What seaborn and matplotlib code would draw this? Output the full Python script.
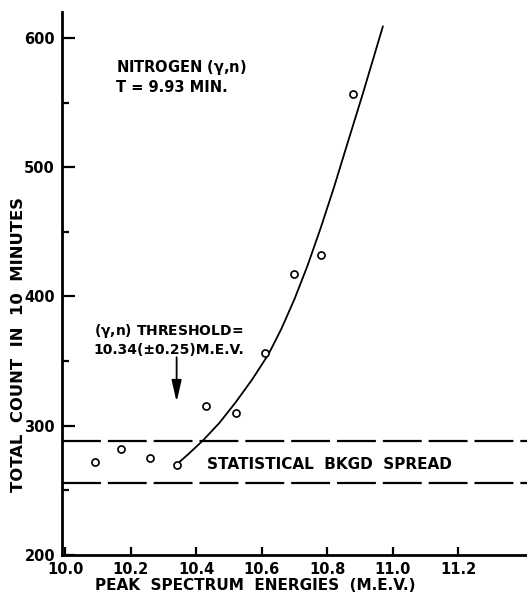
import matplotlib
matplotlib.use("Agg")
import matplotlib.pyplot as plt
import seaborn as sns
import pandas as pd

# Measured counts (10-minute runs) vs. peak bremsstrahlung energy
energy_mev = [10.09, 10.17, 10.26, 10.34, 10.43, 10.52, 10.61, 10.70, 10.78, 10.88]
total_count = [272, 282, 275, 270, 315, 310, 356, 417, 432, 557]

# Hand-drawn fit through the rising yield
curve_mev = [10.34, 10.38, 10.42, 10.47, 10.52, 10.57, 10.62, 10.66, 10.70,
             10.74, 10.78, 10.82, 10.86, 10.91, 10.97]
curve_count = [270, 279, 288.5, 302, 318, 335.5, 355, 375, 398,
               424, 453, 484, 517, 558, 609]

# Background band limits
bkgd_low, bkgd_high = 256, 288
threshold_mev = 10.34

x_ticks = [10.0, 10.2, 10.4, 10.6, 10.8, 11.0, 11.2]
x_tick_labels = ["10.0", "10.2", "10.4", "10.6", "10.8", "11.0", "11.2"]
y_ticks = [200, 300, 400, 500, 600]
y_minor_ticks = [250, 350, 450, 550]

sns.set_style("ticks")
plt.rcParams["font.family"] = ["DejaVu Sans"]
plt.rcParams["font.weight"] = "bold"
plt.rcParams["lines.scale_dashes"] = False
for key in ("text.color", "axes.edgecolor", "axes.labelcolor",
            "xtick.color", "ytick.color"):
    plt.rcParams[key] = "black"

fig = plt.figure(figsize=(5.27, 5.94), dpi=100)
ax = fig.add_axes([62 / 527, 39 / 594, 465 / 527, (555 - 11.7) / 594])

pts = pd.DataFrame({"energy": energy_mev, "count": total_count})
fit = pd.DataFrame({"energy": curve_mev, "count": curve_count})

sns.lineplot(data=fit, x="energy", y="count", sort=False, color="black",
             linewidth=1.3, ax=ax)
sns.scatterplot(data=pts, x="energy", y="count", color="white",
                edgecolor="black", linewidth=1.2, s=26, zorder=5, ax=ax)

for level in (bkgd_low, bkgd_high):
    ax.axhline(level, color="black", linewidth=1.6, linestyle=(0, (28, 5)))

ax.set_xlim(9.990, 11.410)
ax.set_ylim(200, 620.3)

ax.set_xticks(x_ticks)
ax.set_xticklabels(x_tick_labels)
ax.set_yticks(y_ticks)
ax.set_yticks(y_minor_ticks, minor=True)

ax.tick_params(axis="y", which="major", direction="in", length=9, width=1.6,
               pad=5, labelsize=10.5)
ax.tick_params(axis="y", which="minor", direction="in", length=5, width=1.6)
ax.tick_params(axis="x", which="major", direction="in", length=6, width=1.6,
               pad=5, labelsize=10.5)
for lab in ax.get_xticklabels() + ax.get_yticklabels():
    lab.set_fontweight("bold")

sns.despine(ax=ax)
for side in ("left", "bottom"):
    ax.spines[side].set_linewidth(2.0)
ax.set_xlabel("")
ax.set_ylabel("")

# Annotations
ax.text(10.155, 577, r"NITROGEN ($\mathbf{\gamma}$,$\mathbf{n}$)",
        fontsize=10.5, va="center", ha="left")
ax.text(10.155, 562, "T = 9.93 MIN.", fontsize=10.5, va="center", ha="left")

ax.text(10.317, 373, r"($\mathbf{\gamma}$,$\mathbf{n}$) THRESHOLD=",
        fontsize=10, va="center", ha="center")
ax.text(10.317, 358.5, "10.34(±0.25)M.E.V.", fontsize=10, va="center",
        ha="center")
ax.annotate("", xy=(threshold_mev, 318.5), xytext=(threshold_mev, 353),
            arrowprops=dict(arrowstyle="-|>,head_length=1.3,head_width=0.3",
                            mutation_scale=10, lw=1.3, color="black",
                            shrinkA=0, shrinkB=0))

ax.text(10.806, 270, "STATISTICAL  BKGD  SPREAD", fontsize=11, va="center",
        ha="center")

fig.text(255 / 527, 1 - 586 / 594, "PEAK  SPECTRUM  ENERGIES  (M.E.V.)",
         fontsize=11, ha="center", va="center")
fig.text(19 / 527, 1 - 345 / 594, "TOTAL  COUNT  IN  10  MINUTES",
         fontsize=11.8, ha="center", va="center", rotation=90)

fig.savefig("out.png", dpi=100)
